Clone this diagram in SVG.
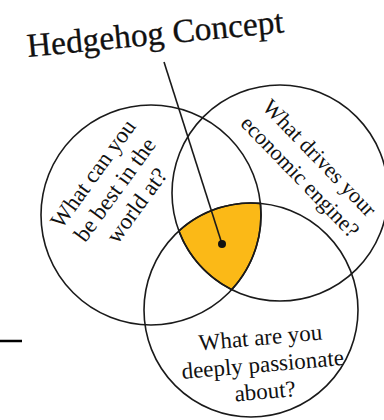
<svg xmlns="http://www.w3.org/2000/svg" width="384" height="420" viewBox="0 0 384 420">
<style>
.c{fill:none;stroke:#1a1a1a;stroke-width:1.6}
.t{font-family:"Liberation Serif","Times New Roman",serif;fill:#111;text-anchor:middle}
</style>
<rect width="384" height="420" fill="#fff"/>
<g id="hedgehog-area">
<path d="M178.8,230.9 A107,107 0 0 1 260.4,203.4 A110,110 0 0 1 231.8,289.6 A108,108 0 0 1 178.8,230.9 Z" fill="#FBB917" stroke="#1a1a1a" stroke-width="1.6"/>
</g>
<g id="circle-best">
<circle class="c" cx="151" cy="215" r="110"/>
<text class="t" font-size="23" transform="translate(121,194) rotate(-54)"><tspan x="0" y="-27">What can you</tspan><tspan x="0" y="0">be best in the</tspan><tspan x="0" y="27">world at?</tspan></text>
</g>
<g id="circle-economic">
<circle class="c" cx="280" cy="193" r="108"/>
<text class="t" font-size="22" transform="translate(305,172) rotate(46)"><tspan x="0" y="-13">What drives your</tspan><tspan x="0" y="14">economic engine?</tspan></text>
</g>
<g id="circle-passion">
<circle class="c" cx="251" cy="310" r="107"/>
<text class="t" font-size="23" transform="translate(261,345) rotate(-5)"><tspan x="0" y="0">What are you</tspan><tspan x="0" y="27">deeply passionate</tspan><tspan x="0" y="54">about?</tspan></text>
</g>
<g id="title">
<text font-family="'Liberation Serif','Times New Roman',serif" font-size="33.5" fill="#111" stroke="#111" stroke-width="0.3" transform="translate(28,57) rotate(-5.5)">Hedgehog Concept</text>
</g>
<g id="connectors">
<line x1="164" y1="62" x2="222" y2="244" stroke="#1a1a1a" stroke-width="1.6"/>
<circle cx="222" cy="244" r="4" fill="#111"/>
<line x1="0" y1="341" x2="22" y2="341" stroke="#000" stroke-width="2.5"/>
</g>
</svg>
